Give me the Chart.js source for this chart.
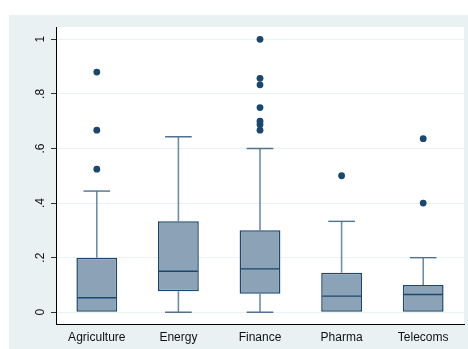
<!DOCTYPE html>
<html>
<head>
<meta charset="utf-8">
<script src="https://cdn.jsdelivr.net/npm/chart.js@4/dist/chart.umd.min.js"></script>
<style>
  html, body { margin: 0; padding: 0; background: #ffffff; }
  canvas { display: block; }
</style>
</head>
<body>
<canvas id="c" width="468" height="349"></canvas>
<script>
// Box plot of shares by sector
const categories = ['Agriculture', 'Energy', 'Finance', 'Pharma', 'Telecoms'];
const lowerQuartile = [0, 0.077, 0.068, 0, 0];
const medians = [0.053, 0.15, 0.159, 0.059, 0.065];
const upperQuartile = [0.2, 0.333, 0.3, 0.145, 0.1];
const whiskerLow = [0, 0, 0, 0, 0];
const whiskerHigh = [0.444, 0.643, 0.6, 0.333, 0.2];
const outliers = [
  [0.88, 0.667, 0.524],
  [],
  [1, 0.857, 0.833, 0.75, 0.7, 0.688, 0.667],
  [0.5],
  [0.636, 0.4]
];
const yTickValues = [0, 0.2, 0.4, 0.6, 0.8, 1];
const yTickLabels = ['0', '.2', '.4', '.6', '.8', '1'];

const NAVY = '#1a476f';
const BOX_FILL = '#8ca3b7';
const WHISKER = '#6f8daa';
const REGION = '#e9f1f3';
const FONT = '"Liberation Sans", Arial, sans-serif';

const outlierPoints = [];
outliers.forEach((vals, i) => vals.forEach(v => outlierPoints.push({ x: categories[i], y: v })));

// Graph region background and white plot area
const backgroundPlugin = {
  id: 'regionBackground',
  beforeDraw(chart) {
    const { ctx, chartArea: a } = chart;
    ctx.save();
    ctx.fillStyle = '#ffffff';
    ctx.fillRect(0, 0, chart.width, chart.height);
    ctx.fillStyle = REGION;
    ctx.fillRect(9, 15, chart.width - 9, chart.height - 15);
    ctx.fillStyle = '#ffffff';
    ctx.fillRect(a.left, a.top, a.right - a.left, a.bottom - a.top);
    ctx.restore();
  }
};

// Whiskers, caps and median lines, positioned with the chart scales
const boxPartsPlugin = {
  id: 'boxParts',
  beforeDatasetsDraw(chart) {
    const { ctx, scales: { x, y } } = chart;
    const catW = x.getPixelForValue(1) - x.getPixelForValue(0);
    const capHalf = catW * 0.163;
    ctx.save();
    categories.forEach((c, i) => {
      const cx = x.getPixelForValue(i);
      const yHi = y.getPixelForValue(whiskerHigh[i]);
      const yQ3 = y.getPixelForValue(upperQuartile[i]);
      const yQ1 = y.getPixelForValue(lowerQuartile[i]);
      const yLo = y.getPixelForValue(whiskerLow[i]);
      ctx.strokeStyle = WHISKER;
      ctx.lineWidth = 1.6;
      ctx.beginPath();
      ctx.moveTo(cx, yHi); ctx.lineTo(cx, yQ3);
      ctx.moveTo(cx, yQ1); ctx.lineTo(cx, yLo);
      ctx.stroke();
      ctx.strokeStyle = '#50718f';
      ctx.lineWidth = 1.4;
      ctx.beginPath();
      ctx.moveTo(cx - capHalf, yHi); ctx.lineTo(cx + capHalf, yHi);
      if (whiskerLow[i] < lowerQuartile[i]) {
        ctx.moveTo(cx - capHalf, yLo); ctx.lineTo(cx + capHalf, yLo);
      }
      ctx.stroke();
    });
    ctx.restore();
  },
  afterDatasetDraw(chart, args) {
    if (args.index !== 0) return;
    const { ctx, scales: { x, y } } = chart;
    const meta = chart.getDatasetMeta(0);
    ctx.save();
    ctx.strokeStyle = NAVY;
    ctx.lineWidth = 1.4;
    meta.data.forEach((bar, i) => {
      const half = bar.width / 2;
      const ym = y.getPixelForValue(medians[i]);
      ctx.beginPath();
      ctx.moveTo(bar.x - half + 1, ym);
      ctx.lineTo(bar.x + half - 1, ym);
      ctx.stroke();
    });
    ctx.restore();
  }
};

// Vertical y tick labels
const yLabelPlugin = {
  id: 'yLabels',
  afterDraw(chart) {
    const { ctx, scales: { y } } = chart;
    ctx.save();
    ctx.fillStyle = '#111111';
    ctx.font = '12px ' + FONT;
    ctx.textAlign = 'center';
    ctx.textBaseline = 'middle';
    yTickValues.forEach((v, i) => {
      ctx.save();
      ctx.translate(40.7, y.getPixelForValue(v));
      ctx.rotate(-Math.PI / 2);
      ctx.fillText(yTickLabels[i], 0, 0);
      ctx.restore();
    });
    ctx.restore();
  }
};

new Chart(document.getElementById('c'), {
  data: {
    labels: categories,
    datasets: [
      {
        type: 'bar',
        label: 'Box',
        data: categories.map((c, i) => [lowerQuartile[i], upperQuartile[i]]),
        backgroundColor: BOX_FILL,
        borderColor: NAVY,
        borderWidth: 1.5,
        borderSkipped: false,
        categoryPercentage: 1,
        barPercentage: 0.5,
        order: 2
      },
      {
        type: 'line',
        label: 'Outliers',
        data: outlierPoints,
        showLine: false,
        pointRadius: 3.4,
        pointBackgroundColor: NAVY,
        pointBorderColor: NAVY,
        pointBorderWidth: 0,
        order: 1
      }
    ]
  },
  options: {
    responsive: false,
    devicePixelRatio: 1,
    animation: false,
    layout: { padding: { left: 0, right: 3, top: 27, bottom: 0 } },
    plugins: {
      legend: { display: false },
      tooltip: { enabled: false }
    },
    scales: {
      x: {
        type: 'category',
        offset: true,
        grid: { display: true, color: 'rgba(0,0,0,0)', drawTicks: false },
        border: { display: true, color: '#000000', width: 1 },
        ticks: { color: '#111111', font: { family: FONT, size: 12 }, padding: 6, maxRotation: 0, minRotation: 0 },
        afterFit(scale) { scale.height = 25; }
      },
      y: {
        type: 'linear',
        min: -0.043,
        max: 1.045,
        afterBuildTicks(scale) { scale.ticks = yTickValues.map(v => ({ value: v })); },
        grid: { color: '#eaf2f3', lineWidth: 1, tickLength: 5, tickColor: '#333333', drawTicks: true },
        border: { display: true, color: '#000000', width: 1 },
        ticks: { display: false },
        afterFit(scale) { scale.width = 56; }
      }
    }
  },
  plugins: [backgroundPlugin, boxPartsPlugin, yLabelPlugin]
});
</script>
</body>
</html>
